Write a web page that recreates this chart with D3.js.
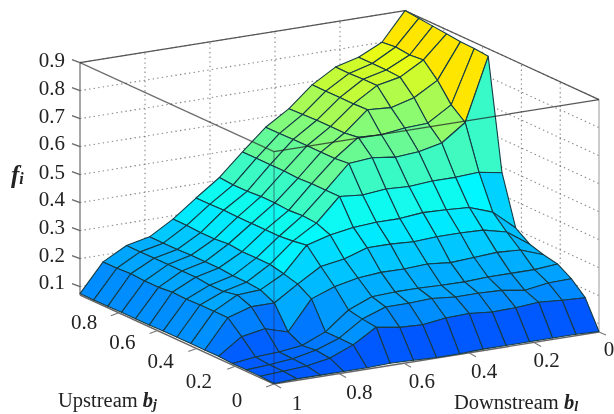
<!DOCTYPE html>
<html><head><meta charset="utf-8">
<script src="https://cdn.jsdelivr.net/npm/d3@7/dist/d3.min.js"></script>
<style>html,body{margin:0;padding:0;background:#fff;overflow:hidden}svg{display:block}
text{font-family:"Liberation Serif",serif;fill:#222}</style></head><body>
<script>
const blGrid=[1,.929,.857,.786,.714,.643,.571,.5,.429,.357,.286,.214,.143,.071,0];
const bjGrid=[0,.071,.143,.214,.286,.357,.429,.5,.571,.643,.714,.786,.857,.929,1];
const fRow00=[.072,.075,.075,.075,.075,.078,.075,.072,.072,.075,.075,.075,.075,.075,.072];
const fRow01=[.075,.08,.085,.10,.134,.184,.17,.166,.177,.18,.172,.174,.18,.174,.17];
const fRow02=[.075,.08,.088,.105,.135,.19,.22,.22,.224,.216,.216,.213,.20,.213,.215];
const fRow03=[.075,.085,.09,.10,.135,.20,.234,.238,.238,.235,.234,.238,.238,.238,.245];
const fRow04=[.078,.135,.15,.125,.23,.26,.278,.285,.284,.288,.28,.285,.29,.285,.255];
const fRow05=[.078,.18,.206,.206,.26,.31,.323,.35,.35,.345,.35,.35,.347,.327,.27];
const fRow06=[.078,.18,.225,.23,.274,.363,.386,.40,.405,.405,.413,.41,.405,.375,.305];
const fRow07=[.078,.18,.215,.235,.285,.355,.406,.488,.48,.488,.484,.49,.49,.495,.48];
const fRow08=[.078,.178,.215,.235,.285,.35,.41,.488,.57,.577,.566,.572,.59,.65,.873];
const fRow09=[.076,.18,.22,.24,.285,.35,.406,.488,.565,.627,.623,.634,.638,.69,.878];
const fRow10=[.076,.175,.22,.24,.29,.35,.41,.485,.565,.62,.69,.684,.706,.755,.88];
const fRow11=[.076,.175,.22,.24,.285,.35,.41,.488,.565,.62,.688,.74,.757,.805,.885];
const fRow12=[.075,.178,.22,.238,.285,.352,.406,.488,.565,.62,.688,.74,.76,.80,.89];
const fRow13=[.075,.175,.22,.238,.288,.35,.406,.488,.563,.618,.688,.738,.76,.806,.895];
const fRow14=[.075,.175,.22,.238,.288,.35,.41,.488,.563,.616,.688,.738,.76,.80,.90];
const fRows=[fRow00,fRow01,fRow02,fRow03,fRow04,fRow05,fRow06,fRow07,fRow08,fRow09,fRow10,fRow11,fRow12,fRow13,fRow14];
const fTicks=[.1,.2,.3,.4,.5,.6,.7,.8,.9];
const fLabelY=[282,255,227,199,172,143,116,88,60];
const blTicks=[1,.8,.6,.4,.2,0];
const bjTicks=[.8,.6,.4,.2,0];
const blTickLabels=["1","0.8","0.6","0.4","0.2","0"];
const bjTickLabels=["0.8","0.6","0.4","0.2","0"];
const colorStops=[.07,.38,.84,.87];
const colorRange=["#0055ff","#00faff","#fbfb00","#ffe600"];

const W=614,H=414;
const svg=d3.select("body").append("svg").attr("width",W).attr("height",H);
svg.append("defs").append("filter").attr("id","soft").attr("x",0).attr("y",0).attr("width","100%").attr("height","100%")
  .append("feGaussianBlur").attr("stdDeviation",.4);
const root=svg.append("g").attr("filter","url(#soft)");
const xBl=d3.scaleLinear().domain([1,0]).range([274,599]);
const yBl=d3.scaleLinear().domain([1,0]).range([384,332]);
const xBj=d3.scaleLinear().domain([0,1]).range([0,-194]);
const yBj=d3.scaleLinear().domain([0,1]).range([0,-89]);
const zPx=d3.scaleLinear().domain([.07,.9]).range([0,-232.4]);
const color=d3.scaleLinear().domain(colorStops).range(colorRange).clamp(true);
const P=(bl,bj,z)=>[xBl(bl)+xBj(bj),yBl(bl)+yBj(bj)+zPx(z)];
const seg=(a,b,o)=>root.append("path").attr("d",d3.line()([a,b])).attr("fill","none")
  .attr("stroke",o.c).attr("stroke-width",o.w||1).attr("stroke-dasharray",o.d||null).attr("stroke-opacity",o.a||1);
const zB=.07,zT=.9;
const dot={c:"#666",w:1.1,d:"1.4 3.2",a:.8};

// back walls grid
fTicks.forEach(z=>{seg(P(1,1,z),P(0,1,z),dot);seg(P(0,1,z),P(0,0,z),dot);});
blTicks.filter(b=>b>0&&b<1).forEach(b=>seg(P(b,1,zB),P(b,1,zT),dot));
bjTicks.filter(b=>b>0).forEach(b=>seg(P(0,b,zB),P(0,b,zT),dot));
// back box
seg(P(1,1,zB),P(1,1,zT),{c:"#777",w:1.3});
seg(P(1,1,zT),P(0,1,zT),{c:"#555",w:1.3});
seg(P(0,1,zT),P(0,0,zT),{c:"#555",w:1.2});
seg(P(0,0,zB),P(0,0,zT),{c:"#999",w:1});
// ticks on bottom edges
seg(P(1,1,zB),P(1,0,zB),{c:"#666",w:1.4});
seg(P(1,0,zB),P(0,0,zB),{c:"#666",w:1.4});
fTicks.forEach(z=>{const p=P(1,1,z);seg([p[0]-8,p[1]-3],p,{c:"#666",w:1.2});});
bjTicks.forEach(b=>{const p=P(1,b,zB);seg([p[0]-8,p[1]+3],p,{c:"#777",w:1.1});});
blTicks.slice(0,-1).forEach(b=>{const p=P(b,0,zB);seg(p,[p[0]+7,p[1]+4],{c:"#777",w:1.1});});
{const p=P(0,0,zB);seg(p,[p[0]+7,p[1]+3],{c:"#777",w:1.1});}

// surface, back to front
const cells=[];
for(let j=0;j<14;j++)for(let i=0;i<14;i++)cells.push({i,j});
cells.sort((a,b)=>(b.i+b.j)-(a.i+a.j));
const g=root.append("g");
g.selectAll("path").data(cells).join("path")
 .attr("d",c=>d3.line()([
   P(blGrid[c.i],bjGrid[c.j],fRows[c.j][c.i]),
   P(blGrid[c.i+1],bjGrid[c.j],fRows[c.j][c.i+1]),
   P(blGrid[c.i+1],bjGrid[c.j+1],fRows[c.j+1][c.i+1]),
   P(blGrid[c.i],bjGrid[c.j+1],fRows[c.j+1][c.i])])+"Z")
 .attr("fill",c=>color(fRows[c.j][c.i+1]))
 .attr("stroke","#143c46").attr("stroke-width",1.1).attr("stroke-linejoin","round");

// front box edges over surface
seg(P(1,1,zT),P(1,0,zT),{c:"#222",w:1.2,a:.65});
seg(P(1,0,zT),P(0,0,zT),{c:"#222",w:1.2,a:.75});
seg(P(1,0,zT),P(1,0,zB),{c:"#224",w:1,a:.55});

// tick labels
const lbl=(x,y,t,a)=>root.append("text").attr("x",x).attr("y",y).attr("text-anchor",a||"middle")
  .attr("dominant-baseline","central").attr("font-size",21).text(t);
fTicks.forEach((z,k)=>lbl(65,fLabelY[k],d3.format(".1f")(z),"end"));
const bjLX=d3.scaleLinear().domain([.8,0]).range([84,237]);
const bjLY=d3.scaleLinear().domain([.8,0]).range([322,400]);
bjTicks.forEach((b,k)=>lbl(bjLX(b),bjLY(b),bjTickLabels[k]));
const blLX=d3.scaleLinear().domain([1,0]).range([297,609]);
const blLY=d3.scaleLinear().domain([1,0]).range([403,349]);
blTicks.forEach((b,k)=>lbl(blLX(b),blLY(b),blTickLabels[k]));

// axis titles
function title(x,y,plain,b,sub,fs,ss){
  const t=root.append("text").attr("x",x).attr("y",y).attr("font-size",fs).attr("dominant-baseline","central");
  t.append("tspan").text(plain);
  t.append("tspan").attr("font-weight","bold").attr("font-style","italic").text(b);
  t.append("tspan").attr("font-weight","bold").attr("font-style","italic").attr("font-size",ss).attr("dy",4).text(sub);
}
title(58,400,"Upstream ","b","j",20.5,14);
title(454,402,"Downstream  ","b","l",20.5,14);
title(11,174,"","f","i",25,16);
</script></body></html>
